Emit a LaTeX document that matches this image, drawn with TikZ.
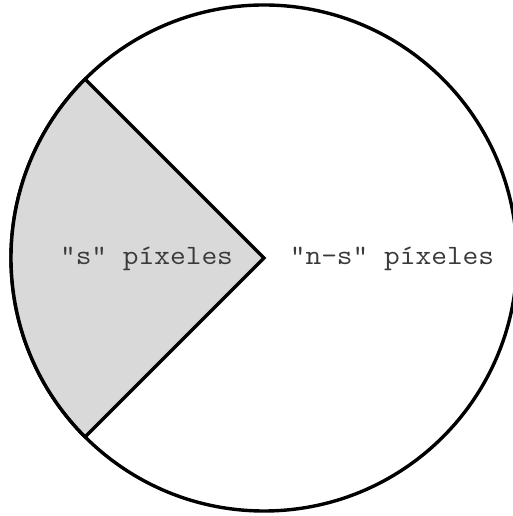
\documentclass[tikz,border=0pt]{standalone}
\usepackage{fontspec}
\definecolor{wedgegray}{HTML}{D9D9D9}
\definecolor{textgray}{HTML}{3A3A3A}
\tikzset{
  outline/.style={draw=black, line width=3.4pt, line join=miter},
  lbl/.style={font=\ttfamily\fontsize{28}{30}\selectfont, text=textgray, inner sep=0pt, anchor=base, xscale=1.09, transform shape}
}
\begin{document}
\begin{tikzpicture}[x=1pt,y=1pt]
\useasboundingbox[fill=white] (0,0) rectangle (512,516);
\coordinate (c) at (264,258);
\draw[outline] (c) circle[radius=253];
\path (c) ++(135:253) coordinate (b);
\path (c) ++(225:253) coordinate (a);
\filldraw[outline, fill=wedgegray] (c) -- (b) arc[start angle=135, end angle=225, radius=253] -- cycle;
\node[lbl] (s) at (146.5,251) {"s" píxeles};
\node[lbl] (ns) at (392,251) {"n-s" píxeles};
\end{tikzpicture}
\end{document}
